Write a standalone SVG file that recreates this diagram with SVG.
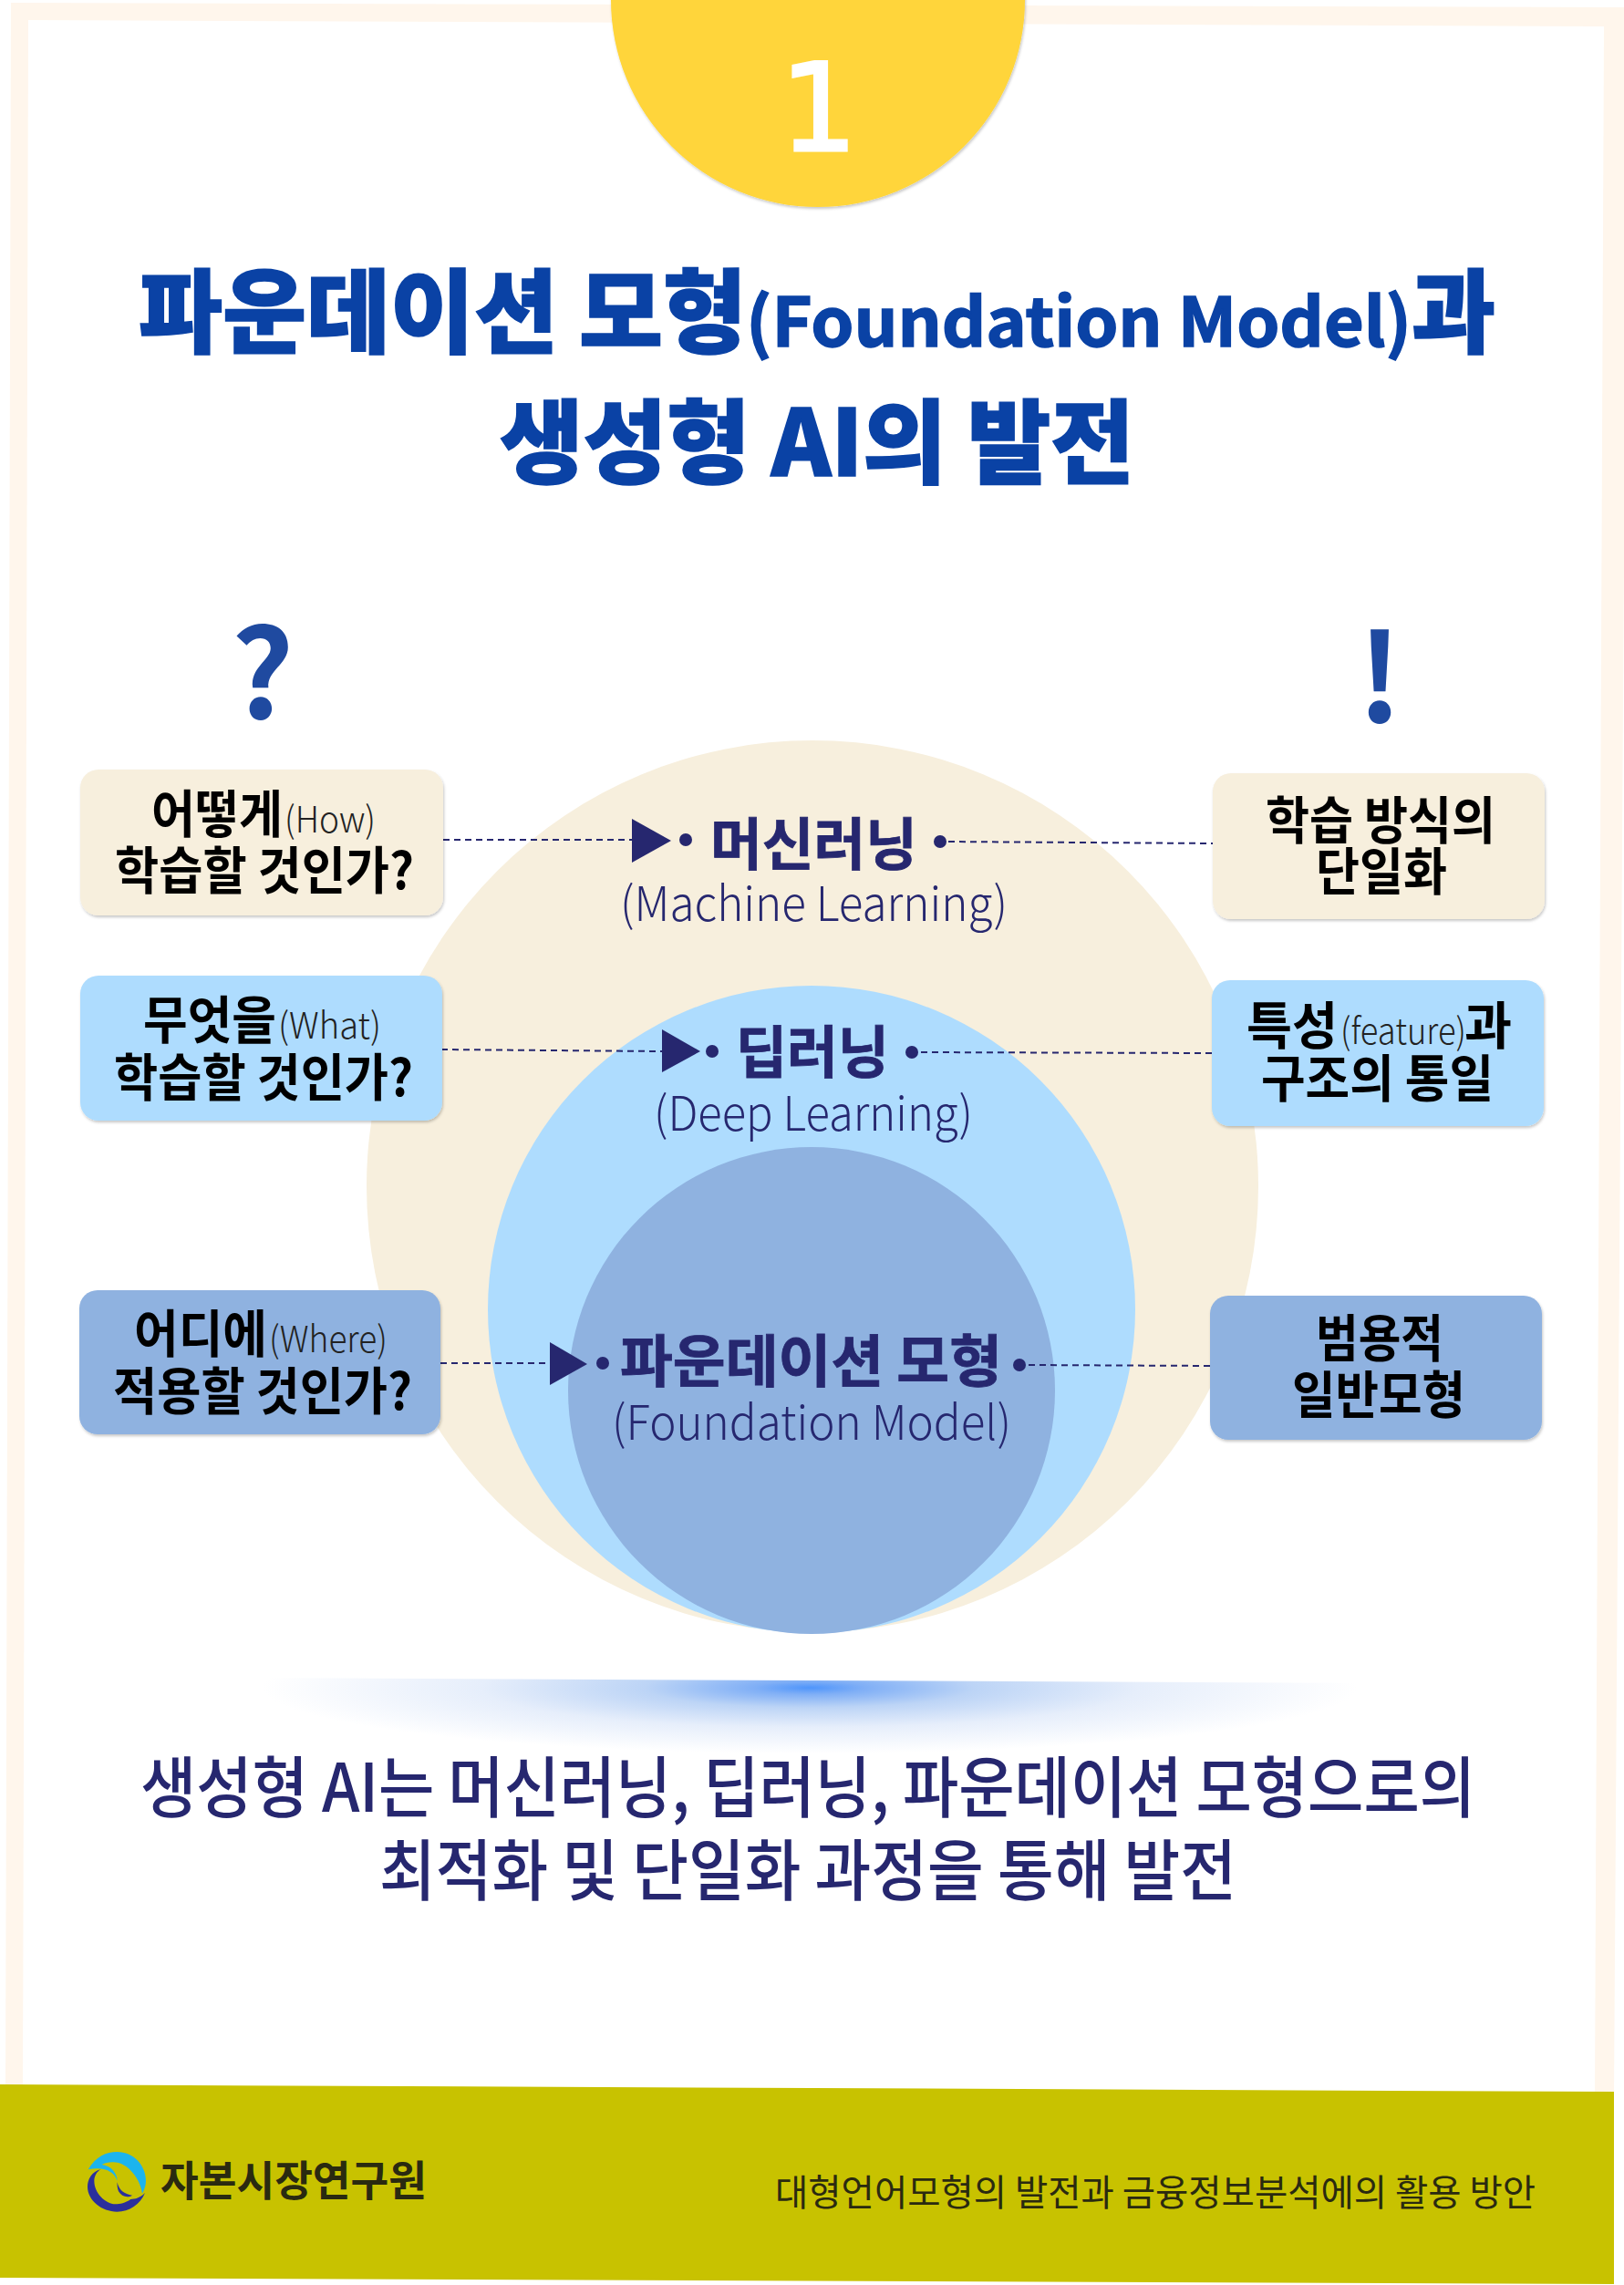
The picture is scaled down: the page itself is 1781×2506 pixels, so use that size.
<svg xmlns="http://www.w3.org/2000/svg" width="1781" height="2506" viewBox="0 0 1781 2506">
<defs>
<radialGradient id="glow" gradientUnits="userSpaceOnUse" cx="888" cy="1851" r="1" gradientTransform="translate(888 1851) scale(600 72) translate(-888 -1851)"><stop offset="0" stop-color="#4f95fb"/><stop offset="0.1" stop-color="#80aff6"/><stop offset="0.3" stop-color="#bcd4f6"/><stop offset="0.6" stop-color="#e6eefb"/><stop offset="1" stop-color="#ffffff"/></radialGradient>
<clipPath id="glowClip"><polygon points="270,1840 1510,1846 1510,1930 270,1930"/></clipPath>
<filter id="sh" x="-5%" y="-5%" width="110%" height="115%"><feDropShadow dx="1" dy="2" stdDeviation="1.5" flood-color="#000" flood-opacity="0.22"/></filter>
</defs>
<style>
text{font-family:"Noto Sans CJK KR","Noto Sans",sans-serif}
.t{fill:#0a42a5;stroke:#0a42a5;stroke-width:1.5;font-weight:900}
.h{fill:#26276f;font-weight:700;font-size:62px;stroke:#26276f;stroke-width:.8}
.l{fill:#26276f;font-weight:300;font-size:52px}
.b{fill:#000;font-weight:700;font-size:56px}
.s{fill:#222;font-weight:300;font-size:40px}
.c{stroke:#26276f;stroke-width:2;stroke-dasharray:7 5;fill:none}
.m{fill:#26276f}
.bot{fill:#26276f;font-weight:500;font-size:73px}
</style>
<rect width="1781" height="2506" fill="#fff"/>
<polygon points="12,3 1785,8 1770,2300 6,2300" fill="#fff6ec"/>
<polygon points="31,22 1759,29 1749,2300 25,2300" fill="#fff"/>
<g id="badge"><circle cx="897" cy="0" r="227" fill="#ffd53a" filter="url(#sh)"/>
<text x="898" y="165" text-anchor="middle" font-size="134" fill="#fff" stroke="#fff" stroke-width="3" style="font-family:'DejaVu Sans',sans-serif">1</text></g>
<g id="title">
<text class="t" x="152" y="379" font-size="100" textLength="667" lengthAdjust="spacingAndGlyphs">파운데이션 모형</text>
<text class="t" x="818" y="380" font-size="74" textLength="730" lengthAdjust="spacingAndGlyphs" style="font-weight:700">(Foundation Model)</text>
<text class="t" x="1548" y="379" font-size="100">과</text>
<text class="t" x="548" y="522" font-size="100" textLength="696" lengthAdjust="spacingAndGlyphs">생성형 AI의 발전</text>
</g>
<text id="q" x="288" y="788" text-anchor="middle" font-size="134" fill="#1f4aa0" font-weight="700">?</text>
<text id="ex" x="1513" y="792" text-anchor="middle" font-size="134" fill="#1f4aa0" font-weight="700">!</text>
<g id="circles">
<circle id="outer" cx="891" cy="1301" r="489" fill="#f7efdd"/>
<circle id="middle" cx="890" cy="1436" r="355" fill="#aedcfe"/>
<circle id="inner" cx="890" cy="1525" r="267" fill="#8fb2e0"/>
</g>
<g id="connectors">
<path class="c" d="M486 921H693M1040 923L1332 925"/>
<path class="c" d="M484 1151L726 1153M1010 1154L1330 1155"/>
<path class="c" d="M483 1495H603M1128 1497L1329 1498"/>
<polygon class="m" points="693,898 736,922 693,946"/><circle class="m" cx="752" cy="921" r="7"/><circle class="m" cx="1031" cy="923" r="7"/>
<polygon class="m" points="726,1129 768,1153 726,1176"/><circle class="m" cx="781" cy="1153" r="7"/><circle class="m" cx="1000" cy="1154" r="7"/>
<polygon class="m" points="603,1472 644,1496 603,1519"/><circle class="m" cx="661" cy="1495" r="7"/><circle class="m" cx="1118" cy="1497" r="7"/>
</g>
<g id="labels">
<text class="h" x="779" y="949" textLength="227" lengthAdjust="spacingAndGlyphs">머신러닝</text>
<text class="l" x="680" y="1010" textLength="425" lengthAdjust="spacingAndGlyphs">(Machine Learning)</text>
<text class="h" x="807" y="1177" textLength="168" lengthAdjust="spacingAndGlyphs">딥러닝</text>
<text class="l" x="717" y="1240" textLength="350" lengthAdjust="spacingAndGlyphs">(Deep Learning)</text>
<text class="h" x="680" y="1516" textLength="419" lengthAdjust="spacingAndGlyphs">파운데이션 모형</text>
<text class="l" x="671" y="1579" textLength="438" lengthAdjust="spacingAndGlyphs">(Foundation Model)</text>
</g>
<g id="box-how"><rect x="88" y="844" width="398" height="160" rx="20" fill="#f7efdd" filter="url(#sh)"/><text class="b" x="166" y="913" textLength="144" lengthAdjust="spacingAndGlyphs">어떻게</text><text class="s" x="312" y="913" textLength="100" lengthAdjust="spacingAndGlyphs">(How)</text><text class="b" x="126" y="975" textLength="328" lengthAdjust="spacingAndGlyphs">학습할 것인가?</text></g>
<g id="box-what"><rect x="88" y="1070" width="397" height="159" rx="20" fill="#aedcfe" filter="url(#sh)"/><text class="b" x="157" y="1139" textLength="146" lengthAdjust="spacingAndGlyphs">무엇을</text><text class="s" x="305" y="1139" textLength="113" lengthAdjust="spacingAndGlyphs">(What)</text><text class="b" x="125" y="1202" textLength="328" lengthAdjust="spacingAndGlyphs">학습할 것인가?</text></g>
<g id="box-where"><rect x="87" y="1415" width="396" height="158" rx="20" fill="#8fb2e0" filter="url(#sh)"/><text class="b" x="147" y="1483" textLength="146" lengthAdjust="spacingAndGlyphs">어디에</text><text class="s" x="295" y="1483" textLength="130" lengthAdjust="spacingAndGlyphs">(Where)</text><text class="b" x="124" y="1546" textLength="328" lengthAdjust="spacingAndGlyphs">적용할 것인가?</text></g>
<g id="box-unify"><rect x="1330" y="848" width="364" height="160" rx="20" fill="#f7efdd" filter="url(#sh)"/><text class="b" x="1388" y="920" textLength="252" lengthAdjust="spacingAndGlyphs">학습 방식의</text><text class="b" x="1443" y="976" textLength="144" lengthAdjust="spacingAndGlyphs">단일화</text></g>
<g id="box-feature"><rect x="1329" y="1075" width="364" height="160" rx="20" fill="#aedcfe" filter="url(#sh)"/><text class="b" x="1367" y="1145" textLength="100" lengthAdjust="spacingAndGlyphs">특성</text><text class="s" x="1470" y="1145" textLength="138" lengthAdjust="spacingAndGlyphs">(feature)</text><text class="b" x="1606" y="1145" textLength="52" lengthAdjust="spacingAndGlyphs">과</text><text class="b" x="1383" y="1203" textLength="255" lengthAdjust="spacingAndGlyphs">구조의 통일</text></g>
<g id="box-general"><rect x="1327" y="1421" width="364" height="158" rx="20" fill="#8fb2e0" filter="url(#sh)"/><text class="b" x="1443" y="1488" textLength="140" lengthAdjust="spacingAndGlyphs">범용적</text><text class="b" x="1417" y="1550" textLength="190" lengthAdjust="spacingAndGlyphs">일반모형</text></g>
<rect id="glowbar" x="270" y="1840" width="1240" height="90" fill="url(#glow)" clip-path="url(#glowClip)"/>
<text class="bot" x="154" y="1987" textLength="1464" lengthAdjust="spacingAndGlyphs">생성형 AI는 머신러닝, 딥러닝, 파운데이션 모형으로의</text>
<text class="bot" x="416" y="2078" textLength="940" lengthAdjust="spacingAndGlyphs">최적화 및 단일화 과정을 통해 발전</text>
<g id="footer">
<polygon points="0,2286 1770,2294 1770,2505 0,2498" fill="#c8c200"/>
<g id="logo" transform="translate(80 2340) scale(.3333)">
<path fill="#1cb4ee" d="M50 118C75 75 110 60 145 60C200 60 240 105 240 155C240 170 235 185 228 197C222 150 180 92 130 94C115 94 105 97 95 102C125 105 145 130 146 155C135 125 105 108 50 118Z"/>
<path fill="#2b2f9c" d="M92 117C62 125 48 150 48 175C48 220 95 257 145 257C185 257 222 232 237 195C220 212 205 215 190 216C172 228 155 232 140 232C105 230 70 195 70 155C70 140 78 125 92 117Z"/>
<path fill="#2b2f9c" d="M146 160C150 185 170 200 195 203C180 213 160 207 150 190C146 180 145 170 146 160Z"/>
</g>
<text x="176" y="2408" font-size="46" font-weight="700" fill="#2a2a10" textLength="292" lengthAdjust="spacingAndGlyphs">자본시장연구원</text>
<text x="850" y="2419" font-size="40" font-weight="400" fill="#2a2a10" textLength="834" lengthAdjust="spacingAndGlyphs">대형언어모형의 발전과 금융정보분석에의 활용 방안</text>
</g>
</svg>
